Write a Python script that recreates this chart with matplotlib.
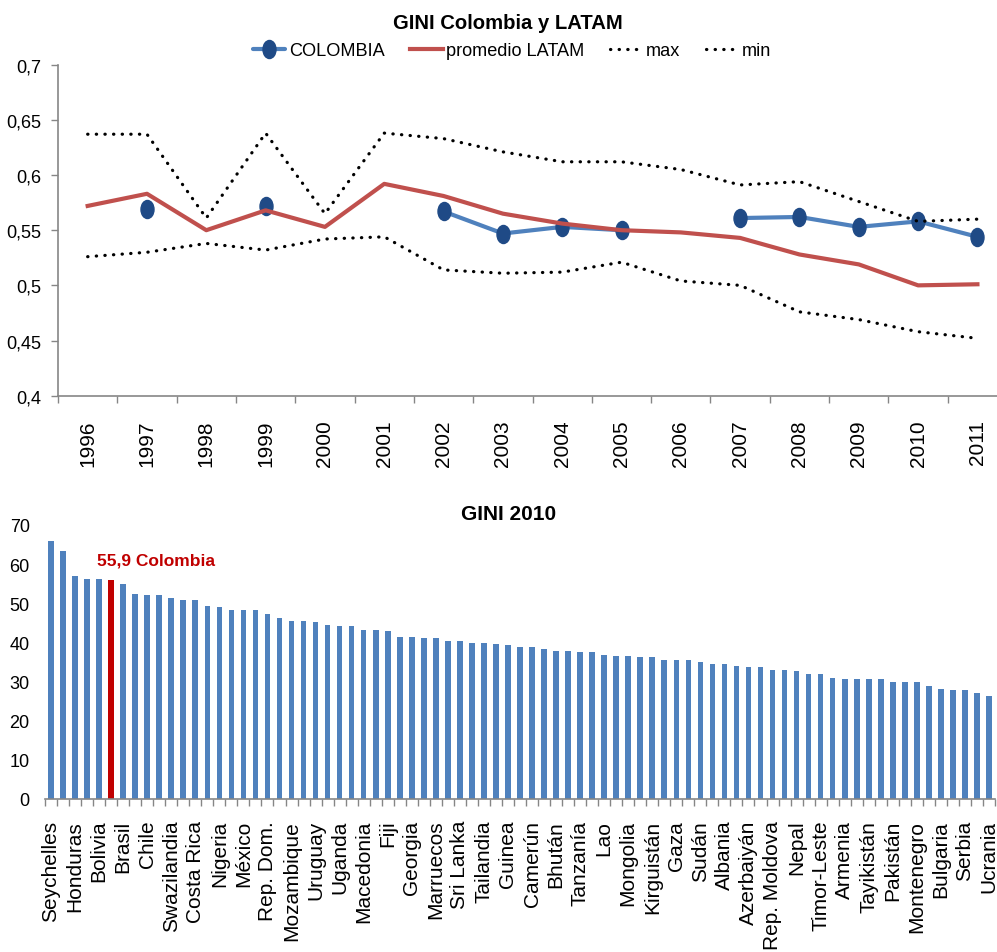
import numpy as np
import matplotlib
matplotlib.use("Agg")
import matplotlib.pyplot as plt
from matplotlib import font_manager
from matplotlib.path import Path
from matplotlib.transforms import Affine2D
from matplotlib.ticker import FuncFormatter, FixedLocator

# ---------------- data ----------------
years = ["1996", "1997", "1998", "1999", "2000", "2001", "2002", "2003",
         "2004", "2005", "2006", "2007", "2008", "2009", "2010", "2011"]
colombia = [np.nan, 0.569, np.nan, 0.572, np.nan, np.nan, 0.567, 0.547,
            0.553, 0.550, np.nan, 0.561, 0.562, 0.553, 0.558, 0.544]
latam_avg = [0.572, 0.583, 0.550, 0.568, 0.553, 0.592, 0.581, 0.565,
             0.556, 0.550, 0.548, 0.543, 0.528, 0.519, 0.500, 0.501]
latam_max = [0.637, 0.637, 0.561, 0.638, 0.565, 0.638, 0.633, 0.621,
             0.612, 0.612, 0.605, 0.591, 0.594, 0.576, 0.558, 0.560]
latam_min = [0.526, 0.530, 0.538, 0.532, 0.542, 0.544, 0.514, 0.511,
             0.512, 0.521, 0.504, 0.500, 0.476, 0.469, 0.458, 0.452]

gini_2010 = [66.0, 63.3, 57.0, 56.3, 56.3, 55.9, 54.9, 52.5, 52.1, 52.1,
             51.4, 50.8, 50.8, 49.3, 49.0, 48.3, 48.3, 48.3, 47.3, 46.3,
             45.5, 45.5, 45.1, 44.5, 44.1, 44.1, 43.1, 43.1, 42.8, 41.4,
             41.4, 41.1, 41.1, 40.4, 40.4, 39.9, 39.9, 39.6, 39.4, 38.9,
             38.9, 38.2, 37.9, 37.9, 37.6, 37.6, 36.9, 36.5, 36.5, 36.2,
             36.2, 35.5, 35.4, 35.4, 35.1, 34.4, 34.4, 34.0, 33.6, 33.6,
             33.0, 33.0, 32.6, 31.9, 31.9, 30.9, 30.6, 30.6, 30.6, 30.6,
             29.9, 29.9, 29.9, 28.8, 28.1, 27.8, 27.8, 27.1, 26.4]
colombia_idx = 5
country_labels = ["Seychelles", "Honduras", "Bolivia", "Brasil", "Chile",
                  "Swazilandia", "Costa Rica", "Nigeria", "México", "Rep. Dom.",
                  "Mozambique", "Uruguay", "Uganda", "Macedonia", "Fiji",
                  "Georgia", "Marruecos", "Sri Lanka", "Tailandia", "Guinea",
                  "Camerún", "Bhután", "Tanzanía", "Lao", "Mongolia",
                  "Kirguistán", "Gaza", "Sudán", "Albania", "Azerbaiyán",
                  "Rep. Moldova", "Nepal", "Timor-Leste", "Armenia", "Tayikistán",
                  "Pakistán", "Montenegro", "Bulgaria", "Serbia", "Ucrania"]

# ---------------- fonts ----------------
available = {f.name for f in font_manager.fontManager.ttflist}
if "Liberation Sans Narrow" in available:
    NARROW, nscale, tscale = "Liberation Sans Narrow", 1.0, 1.0
else:
    NARROW, nscale, tscale = "Liberation Sans", 0.88, 0.86
REG = "Liberation Sans"
plt.rcParams["font.family"] = [REG, "DejaVu Sans"]

BLUE = "#4F81BD"
NAVY = "#1F4A86"
RED = "#C0504D"
DARKRED = "#C00000"
GRAY = "#868686"

W, H = 997, 953
fig = plt.figure(figsize=(W / 100, H / 100), dpi=100)

def comma(v, _pos=None):
    return f"{v:g}".replace(".", ",")

# ---------------- top: GINI Colombia y LATAM ----------------
ax1 = fig.add_axes([58 / W, 1 - 396.7 / H, (W - 58) / W, (396.7 - 65.7) / H])
x = np.arange(len(years))

ellipse = Path.unit_circle().transformed(Affine2D().scale(0.72, 1.0))
ax1.plot(x, colombia, color=BLUE, lw=3, marker=ellipse, ms=13,
         mfc=NAVY, mec=NAVY, label="COLOMBIA", solid_capstyle="round")
ax1.plot(x, latam_avg, color=RED, lw=3, label="promedio LATAM")
dots = dict(color="black", lw=2.3, linestyle=(0, (0.1, 2.6)), dash_capstyle="round")
ax1.plot(x, latam_max, label="max", **dots)
ax1.plot(x, latam_min, label="min", **dots)

ax1.set_xlim(-0.5, 15.33)
ax1.set_ylim(0.4, 0.7)
ax1.yaxis.set_major_locator(FixedLocator(np.arange(0.4, 0.7001, 0.05)))
ax1.yaxis.set_major_formatter(FuncFormatter(comma))
ax1.set_xticks(x)
ax1.set_xticklabels(years, rotation=90, fontsize=15, family=REG)
ax1.set_xticks(np.arange(-0.5, 15.5, 1), minor=True)
ax1.tick_params(axis="x", which="major", length=0, pad=17)
ax1.tick_params(axis="x", which="minor", length=5, width=1, color=GRAY, direction="out")
ax1.tick_params(axis="y", length=5, width=1, color=GRAY, pad=7,
                labelsize=14.8 * nscale)
for lab in ax1.get_yticklabels():
    lab.set_family(NARROW)
for s in ("top", "right"):
    ax1.spines[s].set_visible(False)
for s in ("left", "bottom"):
    ax1.spines[s].set_color(GRAY)
    ax1.spines[s].set_linewidth(1.2)

fig.text(508 / W, 1 - 23.5 / H, "GINI Colombia y LATAM", ha="center", va="center",
         fontsize=17 * tscale, fontweight="bold", family=NARROW)
fig.legend(*ax1.get_legend_handles_labels(), loc="center",
           bbox_to_anchor=(512 / W, 1 - 52 / H), ncol=4, frameon=False,
           prop={"family": NARROW, "size": 14.8 * nscale},
           handlelength=1.8, handletextpad=0.2, columnspacing=1.4,
           borderpad=0, borderaxespad=0)

# ---------------- bottom: GINI 2010 ----------------
ax2 = fig.add_axes([45 / W, 1 - 800 / H, 950 / W, (800 - 526) / H])
xb = np.arange(len(gini_2010))
colors = [DARKRED if i == colombia_idx else BLUE for i in xb]
ax2.bar(xb, gini_2010, width=0.47, color=colors, edgecolor="none")
ax2.set_xlim(-0.5, len(gini_2010) - 0.5)
ax2.set_ylim(0, 70)
ax2.set_yticks(np.arange(0, 71, 10))
ax2.tick_params(axis="y", length=0, pad=11, labelsize=13)
ax2.set_xticks(xb[::2])
ax2.set_xticklabels(country_labels, rotation=90, fontsize=15)
ax2.set_xticks(np.arange(-0.5, len(gini_2010), 1), minor=True)
ax2.tick_params(axis="x", which="major", length=0, pad=15)
ax2.tick_params(axis="x", which="minor", length=5, width=1, color=GRAY, direction="out")
for s in ("top", "right", "left"):
    ax2.spines[s].set_visible(False)
ax2.spines["bottom"].set_color(GRAY)
ax2.spines["bottom"].set_linewidth(1.2)

fig.text(509 / W, 1 - 515 / H, "GINI 2010", ha="center", va="center",
         fontsize=15, fontweight="bold")
col_val = gini_2010[colombia_idx]
ax2.annotate(f"{col_val:.1f}".replace(".", ",") + " Colombia",
             xy=(colombia_idx, col_val), xytext=(-10, 14.5),
             textcoords="offset points", ha="left", va="center",
             color=DARKRED, fontsize=12.5, fontweight="bold")

fig.savefig("out.png", dpi=100)
